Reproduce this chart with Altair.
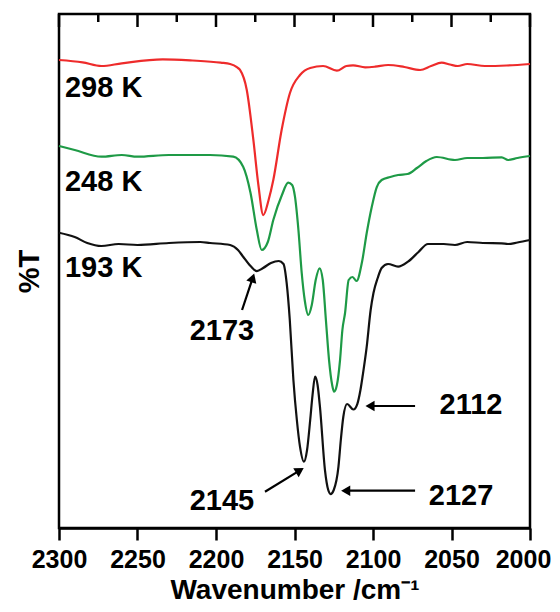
import altair as alt
import pandas as pd

# ---- spectra (wavenumber / cm-1, %T in arbitrary offset units) ----
red_wn = [2300, 2285, 2273, 2260, 2234, 2215, 2197, 2191, 2186.5, 2184.7, 2180.4, 2176.2, 2173,
          2169.9, 2166.5, 2163.5, 2158.2, 2152.9, 2146.5, 2140, 2131.8, 2123, 2117, 2112.7,
          2105, 2098.7, 2090.4, 2080, 2070, 2063, 2056.3, 2051, 2046, 2040, 2028.7, 2015, 2000]
red_t = [91.05, 90.6, 89.88, 90.41, 91.19, 90.95, 90.53, 90.27, 89.6, 89.11, 85.21, 75.49, 66.73,
         60.89, 63.81, 67.70, 77.43, 84.63, 88.13, 89.49, 89.88, 88.97, 89.88, 90.02,
         89.63, 89.75, 90.08, 89.69, 89.11, 89.88, 90.53, 90.18, 89.88, 90.27, 89.88, 89.98, 90.27]

green_wn = [2300, 2290, 2273, 2260, 2250, 2230, 2203.8, 2189, 2182.7, 2178, 2174, 2170.9, 2167,
            2163.5, 2158, 2154, 2151.5, 2149.7, 2147.5, 2145.4, 2143.5, 2141.2, 2139, 2136.5,
            2134, 2132, 2130, 2128, 2126, 2124.8, 2123, 2121, 2119.5, 2117.8, 2115.5, 2113,
            2110.5, 2107, 2104, 2100.8, 2097.6, 2094.5, 2089, 2084, 2078, 2072, 2066, 2059.4,
            2047.8, 2040, 2030, 2018, 2014, 2008, 2000]
green_t = [74.32, 73.54, 72.24, 72.57, 72.24, 72.57, 72.57, 72.24, 70.29, 65.18, 57.98, 54.09, 55.64,
           59.92, 64.79, 67.18, 66.73, 64.46, 57.98, 49.61, 44.36, 41.44, 43.39, 48.25,
           50.53, 48.25, 40.47, 32.68, 27.82, 26.52, 27.82, 32.68, 38.52, 41.83, 48.25, 48.83,
           48.05, 51.75, 57.39, 62.45, 66.34, 67.70, 68.29, 68.68, 68.87, 70.04, 71.40, 72.18,
           71.60, 71.98, 71.98, 72.12, 71.60, 71.98, 72.37]

black_wn = [2300, 2290, 2282, 2273, 2262, 2250, 2230, 2210, 2203.8, 2191, 2186, 2182.7, 2178, 2174,
            2170, 2165, 2160, 2157, 2155, 2153, 2150.7, 2148.5, 2146.5, 2144, 2142, 2140, 2138.5,
            2136.9, 2135.3, 2133.8, 2130.6, 2128.5, 2127, 2125, 2122, 2120.5, 2118.9, 2116.5,
            2112.5, 2110, 2108, 2106.5, 2104, 2101.5, 2099.7, 2097, 2094.5, 2090.4, 2084, 2077.7,
            2071, 2065, 2055, 2047.8, 2040, 2030, 2018, 2014, 2008, 2000]
black_t = [57.45, 56.61, 55.45, 54.86, 55.25, 55.06, 55.45, 55.64, 55.45, 55.06, 54.09, 52.78, 50.97, 49.99,
           50.58, 51.56, 51.95, 51.36, 47.67, 40.47, 28.79, 21.01, 15.82, 12.90, 15.18, 21.01, 25.88,
           29.44, 27.82, 23.60, 11.28, 7.39, 6.61, 7.39, 11.93, 17.12, 21.65, 24.12,
           23.05, 24.12, 26.85, 29.77, 35.27, 42.41, 45.72, 48.64, 50.58, 51.36, 50.84, 51.81,
           53.70, 55.25, 55.25, 55.06, 55.64, 55.45, 55.39, 55.25, 55.54, 56.03]

series_names = ["298 K", "248 K", "193 K"]
series_colors = ["#ee2b2b", "#1e9a46", "#111111"]

# ---- temperature labels ----
temp_labels = ["298 K", "248 K", "193 K"]
temp_wn = [2296.2, 2296.2, 2296.2]
temp_t = [85.70, 67.37, 50.52]

# ---- peak labels and arrows ----
peak_labels = ["2173", "2145", "2112", "2127"]
peak_label_wn = [2196.2, 2196.2, 2037.6, 2043.9]
peak_label_t = [38.33, 5.25, 23.93, 6.23]
arrow_tail_wn = [2183.4, 2168.8, 2073.2, 2073.2]
arrow_tail_t = [42.41, 7.06, 23.74, 7.26]
arrow_head_wn = [2176.6, 2146.6, 2101.9, 2117.4]
arrow_head_t = [48.68, 11.21, 23.74, 7.26]
arrow_angle = [18.4, 58.6, 270, 270]

# ---- ticks ----
all_ticks = [2300, 2275, 2250, 2225, 2200, 2175, 2150, 2125, 2100, 2075, 2050, 2025, 2000]
major_ticks = [2300, 2250, 2200, 2150, 2100, 2050, 2000]
minor_ticks = [2275, 2225, 2175, 2125, 2075, 2025]

FONT = "Liberation Sans"

rows = []
for name, wn, t in [("298 K", red_wn, red_t), ("248 K", green_wn, green_t), ("193 K", black_wn, black_t)]:
    for a, b in zip(wn, t):
        rows.append({"series": name, "wn": a, "T": b})
spec = pd.DataFrame(rows)

xscale = alt.Scale(domain=[2000, 2300], reverse=True, nice=False, zero=False)
yscale = alt.Scale(domain=[0, 100], nice=False, zero=False)

x_axis = alt.Axis(
    values=all_ticks,
    title="Wavenumber /cm\u207b\u00b9",
    labelExpr="datum.value % 50 === 0 ? datum.label : ''",
    format="d",
    tickSize={"condition": {"test": "datum.value % 50 === 0", "value": 12}, "value": 7},
    tickWidth=2.5, tickColor="black",
    domainColor="black", domainWidth=2.5,
    labelFont=FONT, labelFontSize=25, labelFontWeight="bold", labelColor="black",
    labelPadding=7, labelFlush=False, labelOverlap=False,
    labelOffset={"condition": {"test": "datum.value === 2000", "value": -7}, "value": 0},
    titleFont=FONT, titleFontSize=28, titleFontWeight="bold", titleColor="black",
    titlePadding=4, grid=False,
)
y_axis = alt.Axis(
    title="%T", labels=False, ticks=False, domain=False, grid=False,
    titleFont=FONT, titleFontSize=29, titleFontWeight="bold", titleColor="black",
    titlePadding=15,
)

lines = alt.Chart(spec).mark_line(strokeWidth=2.2, interpolate="monotone").encode(
    x=alt.X("wn:Q", scale=xscale, axis=x_axis),
    y=alt.Y("T:Q", scale=yscale, axis=y_axis),
    color=alt.Color("series:N", scale=alt.Scale(domain=series_names, range=series_colors), legend=None),
    detail="series:N",
)

temp_df = pd.DataFrame({"label": temp_labels, "wn": temp_wn, "T": temp_t})
temps = alt.Chart(temp_df).mark_text(
    align="left", baseline="middle", font=FONT, fontSize=29, fontWeight="bold", color="black"
).encode(x="wn:Q", y="T:Q", text="label:N")

peak_df = pd.DataFrame({"label": peak_labels, "wn": peak_label_wn, "T": peak_label_t})
peaks = alt.Chart(peak_df).mark_text(
    align="center", baseline="middle", font=FONT, fontSize=29, fontWeight="bold", color="black"
).encode(x="wn:Q", y="T:Q", text="label:N")

arrow_df = pd.DataFrame({
    "x1": arrow_tail_wn, "y1": arrow_tail_t,
    "x2": arrow_head_wn, "y2": arrow_head_t, "ang": arrow_angle,
})
shafts = alt.Chart(arrow_df).mark_rule(strokeWidth=2.2, color="black").encode(
    x="x1:Q", y="y1:Q", x2="x2:Q", y2="y2:Q"
)
heads = alt.Chart(arrow_df).mark_point(
    shape="triangle-up", filled=True, size=110, color="black", opacity=1
).encode(x="x2:Q", y="y2:Q", angle=alt.Angle("ang:Q", scale=None))

major_df = pd.DataFrame({"wn": major_ticks})
minor_df = pd.DataFrame({"wn": minor_ticks})
top_major = alt.Chart(major_df).mark_rule(strokeWidth=2.5, color="black").encode(
    x="wn:Q", y=alt.value(0), y2=alt.value(13)
)
top_minor = alt.Chart(minor_df).mark_rule(strokeWidth=2.5, color="black").encode(
    x="wn:Q", y=alt.value(0), y2=alt.value(8)
)

chart = alt.layer(lines, top_major, top_minor, shafts, heads, temps, peaks).properties(
    width=471, height=514,
    autosize=alt.AutoSizeParams(type="none"),
    padding={"left": 51, "top": 6, "right": 22, "bottom": 76},
    background="white",
).configure_view(stroke="black", strokeWidth=2.5)

chart.save("out.html", embed_options={"renderer": "svg", "actions": False})
